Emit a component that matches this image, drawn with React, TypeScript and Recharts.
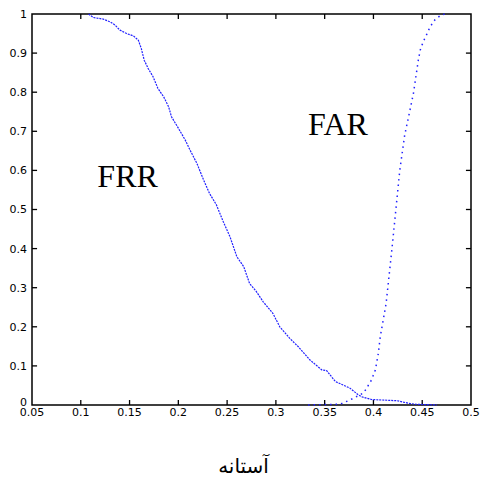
import React from "react";
import { LineChart, Line, XAxis, YAxis, ReferenceDot, ReferenceArea, ReferenceLine, Label } from "recharts";

const frrX = [0.108, 0.113, 0.123, 0.13, 0.135, 0.14, 0.147, 0.154, 0.159, 0.162, 0.165, 0.169, 0.174, 0.179, 0.185, 0.19, 0.193, 0.2, 0.207, 0.212, 0.219, 0.226, 0.232, 0.239, 0.246, 0.253, 0.26, 0.267, 0.273, 0.28, 0.287, 0.297, 0.304, 0.314, 0.323, 0.335, 0.347, 0.352, 0.361, 0.376, 0.384, 0.388, 0.398, 0.424, 0.437, 0.443, 0.465];
const frrY = [1.0, 0.991, 0.987, 0.98, 0.972, 0.959, 0.95, 0.944, 0.933, 0.912, 0.882, 0.861, 0.84, 0.81, 0.788, 0.763, 0.737, 0.708, 0.678, 0.652, 0.618, 0.575, 0.541, 0.512, 0.469, 0.43, 0.379, 0.354, 0.311, 0.29, 0.264, 0.234, 0.2, 0.171, 0.149, 0.115, 0.09, 0.088, 0.06, 0.043, 0.027, 0.021, 0.014, 0.011, 0.004, 0.002, 0];

const farX = [0.333, 0.366, 0.376, 0.384, 0.39, 0.393, 0.398, 0.402, 0.405, 0.407, 0.41, 0.413, 0.416, 0.419, 0.423, 0.427, 0.432, 0.436, 0.441, 0.443, 0.446, 0.448, 0.451, 0.455, 0.458, 0.463, 0.468, 0.473];
const farY = [0, 0.002, 0.013, 0.023, 0.031, 0.043, 0.064, 0.09, 0.132, 0.175, 0.217, 0.26, 0.33, 0.4, 0.5, 0.6, 0.69, 0.737, 0.797, 0.831, 0.882, 0.908, 0.929, 0.95, 0.967, 0.985, 0.995, 1.0];

const xTicks = [0.05, 0.1, 0.15, 0.2, 0.25, 0.3, 0.35, 0.4, 0.45, 0.5];
const yTicks = [0, 0.1, 0.2, 0.3, 0.4, 0.5, 0.6, 0.7, 0.8, 0.9, 1];

const seriesNames = ["FRR", "FAR"];
const labelPos = [
  { x: 0.148, y: 0.587 },
  { x: 0.3636, y: 0.72 },
];
const xTitle = "آستانه";

const frrData = frrX.map((x, i) => ({ x, y: frrY[i] }));
const farData = farX.map((x, i) => ({ x, y: farY[i] }));

const X_MIN = 0.05;
const X_MAX = 0.5;
const Y_MIN = 0;
const Y_MAX = 1;
const TICK_DY = 0.0128;
const TICK_DX = 0.0052;

const MARGIN_X = 3;
const MARGIN_Y = 5;
const tickFont = { fill: "#000", fontSize: 11, fontFamily: "DejaVu Sans" };

const BottomTick = (p: any) => {
  const { x, y, payload } = p;
  return (
    <text x={x} y={y} dy="0.71em" textAnchor="middle" {...tickFont}>
      {String(payload.value)}
    </text>
  );
};

const LeftTick = (p: any) => {
  const { x, y, payload } = p;
  return (
    <text
      x={x}
      y={y}
      dy={payload.value === 0 ? "0.05em" : "0.355em"}
      textAnchor="end"
      {...tickFont}
    >
      {String(payload.value)}
    </text>
  );
};

const textLabel = (value: string) => ({
  value,
  position: "center" as const,
  fill: "#000",
  fontSize: 32,
  fontFamily: "Liberation Serif",
});

const tickLineProps = {
  xAxisId: "b",
  yAxisId: "l",
  stroke: "#000",
  strokeWidth: 1.3,
  ifOverflow: "visible" as const,
};

export default function App() {
  return (
    <div style={{ position: "absolute", left: 0, top: 0 }}>
      <LineChart
        width={480}
        height={483}
        margin={{ top: 14, right: 9, bottom: 0, left: 0 }}
      >
        <XAxis
          xAxisId="b"
          dataKey="x"
          type="number"
          domain={[X_MIN, X_MAX]}
          ticks={xTicks}
          allowDataOverflow
          height={78}
          tickSize={0}
          tickMargin={MARGIN_X}
          tickLine={false}
          tick={BottomTick}
          axisLine={false}
          interval={0}
        >
          <Label
            value={xTitle}
            position="insideBottom"
            offset={10}
            dx={-8}
            fill="#000"
            fontSize={20}
            fontFamily="DejaVu Sans"
          />
        </XAxis>
        <YAxis
          yAxisId="l"
          type="number"
          domain={[Y_MIN, Y_MAX]}
          ticks={yTicks}
          width={32}
          tickSize={0}
          tickMargin={MARGIN_Y}
          tickLine={false}
          tick={LeftTick}
          axisLine={false}
          interval={0}
        />
        <ReferenceArea
          xAxisId="b"
          yAxisId="l"
          x1={X_MIN}
          x2={X_MAX}
          y1={Y_MIN}
          y2={Y_MAX}
          fill="none"
          fillOpacity={0}
          stroke="#000"
          strokeOpacity={1}
          strokeWidth={1.5}
          ifOverflow="visible"
        />
        {xTicks.slice(1, -1).map((t) => (
          <ReferenceLine
            key={`xb${t}`}
            {...tickLineProps}
            segment={[{ x: t, y: Y_MIN }, { x: t, y: Y_MIN + TICK_DY }]}
          />
        ))}
        {xTicks.slice(1, -1).map((t) => (
          <ReferenceLine
            key={`xt${t}`}
            {...tickLineProps}
            segment={[{ x: t, y: Y_MAX }, { x: t, y: Y_MAX - TICK_DY }]}
          />
        ))}
        {yTicks.slice(1, -1).map((t) => (
          <ReferenceLine
            key={`yl${t}`}
            {...tickLineProps}
            segment={[{ x: X_MIN, y: t }, { x: X_MIN + TICK_DX, y: t }]}
          />
        ))}
        {yTicks.slice(1, -1).map((t) => (
          <ReferenceLine
            key={`yr${t}`}
            {...tickLineProps}
            segment={[{ x: X_MAX, y: t }, { x: X_MAX - TICK_DX, y: t }]}
          />
        ))}
        <Line
          xAxisId="b"
          yAxisId="l"
          data={frrData}
          dataKey="y"
          name={seriesNames[0]}
          type="linear"
          stroke="#2020ff"
          strokeWidth={1.2}
          strokeDasharray="2 1"
          dot={false}
          isAnimationActive={false}
        />
        <Line
          xAxisId="b"
          yAxisId="l"
          data={farData}
          dataKey="y"
          name={seriesNames[1]}
          type="linear"
          stroke="#2020ff"
          strokeWidth={1.5}
          strokeDasharray="1.5 4"
          dot={false}
          isAnimationActive={false}
        />
        {seriesNames.map((n, i) => (
          <ReferenceDot
            key={n}
            xAxisId="b"
            yAxisId="l"
            x={labelPos[i].x}
            y={labelPos[i].y}
            r={0}
            stroke="none"
            fill="none"
            label={textLabel(n)}
          />
        ))}
      </LineChart>
    </div>
  );
}
